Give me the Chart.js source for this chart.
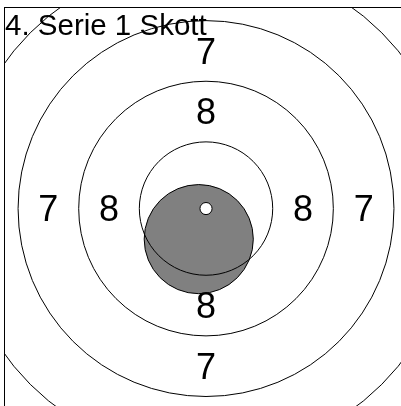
<!DOCTYPE html>
<html>
<head>
<meta charset="utf-8">
<script src="https://cdn.jsdelivr.net/npm/chart.js@4/dist/chart.umd.min.js"></script>
<style>
html,body{margin:0;padding:0;background:#fff;}
#wrap{width:401px;height:406px;position:relative;}
</style>
</head>
<body>
<div id="wrap"><canvas id="c"></canvas></div>
<script>
// ---- data (millimetres on an air-rifle target) ----
const chartTitle = '4. Serie 1 Skott';
const ringValues = [9, 8, 7, 6];
const ringRadii = [2.75, 5.25, 7.75, 10.25];
const tenRingRadius = [0.25];
const shotX = [-0.30];
const shotY = [-1.26];
const shotRadius = [2.25];
const labelText = ['7', '8', '8', '7', '7', '8', '8', '7'];
const labelX = [-6.5, -4.0, 4.0, 6.5, 0, 0, 0, 0];
const labelY = [0, 0, 0, 0, 6.5, 4.0, -4.0, -6.5];
const xRange = [-8.33, 8.04];
const yRange = [-8.14, 8.31];

function pxPerUnit(chart) {
  const s = chart.scales.x;
  return Math.abs(s.getPixelForValue(1) - s.getPixelForValue(0));
}
const radiusFromData = ctx => ctx.raw.r * pxPerUnit(ctx.chart);

const textPlugin = {
  id: 'targetText',
  afterDatasetsDraw(chart) {
    const {ctx, scales: {x, y}, chartArea} = chart;
    ctx.save();
    ctx.fillStyle = '#000';
    const fs = 36;
    ctx.font = fs + 'px "Liberation Sans", Arial, sans-serif';
    ctx.textAlign = 'center';
    ctx.textBaseline = 'alphabetic';
    labelText.forEach((t, i) => {
      ctx.fillText(t, x.getPixelForValue(labelX[i]), y.getPixelForValue(labelY[i]) + 0.358 * fs);
    });
    ctx.textAlign = 'left';
    ctx.font = '29.5px "Liberation Sans", Arial, sans-serif';
    ctx.fillText(chartTitle, chartArea.left + 1, chartArea.top + 28);
    ctx.restore();
  }
};

new Chart(document.getElementById('c'), {
  type: 'scatter',
  data: {
    datasets: [
      {
        label: '10',
        data: tenRingRadius.map(r => ({x: 0, y: 0, r})),
        backgroundColor: '#ffffff',
        borderColor: '#000000',
        borderWidth: 1,
        pointRadius: radiusFromData,
        order: 0,
        clip: 0
      },
      {
        label: 'Ringar',
        data: ringRadii.map((r, i) => ({x: 0, y: 0, r, v: ringValues[i]})),
        backgroundColor: 'rgba(0,0,0,0)',
        borderColor: '#000000',
        borderWidth: 1,
        pointRadius: radiusFromData,
        order: 1,
        clip: 0
      },
      {
        label: 'Skott',
        data: shotX.map((sx, i) => ({x: sx, y: shotY[i], r: shotRadius[i]})),
        backgroundColor: '#808080',
        borderColor: '#000000',
        borderWidth: 1,
        pointRadius: radiusFromData,
        order: 2,
        clip: 0
      }
    ]
  },
  options: {
    responsive: true,
    maintainAspectRatio: false,
    animation: false,
    devicePixelRatio: 1,
    events: [],
    layout: {padding: {left: 4, top: 7, right: 0, bottom: 0}},
    plugins: {legend: {display: false}, tooltip: {enabled: false}, title: {display: false}},
    scales: {
      x: {
        type: 'linear', position: 'top', min: xRange[0], max: xRange[1],
        ticks: {display: false}, grid: {display: false, drawTicks: false},
        border: {display: true, color: '#000', width: 1}
      },
      y: {
        type: 'linear', position: 'left', min: yRange[0], max: yRange[1],
        ticks: {display: false}, grid: {display: false, drawTicks: false},
        border: {display: true, color: '#000', width: 1}
      }
    }
  },
  plugins: [textPlugin]
});
</script>
</body>
</html>
